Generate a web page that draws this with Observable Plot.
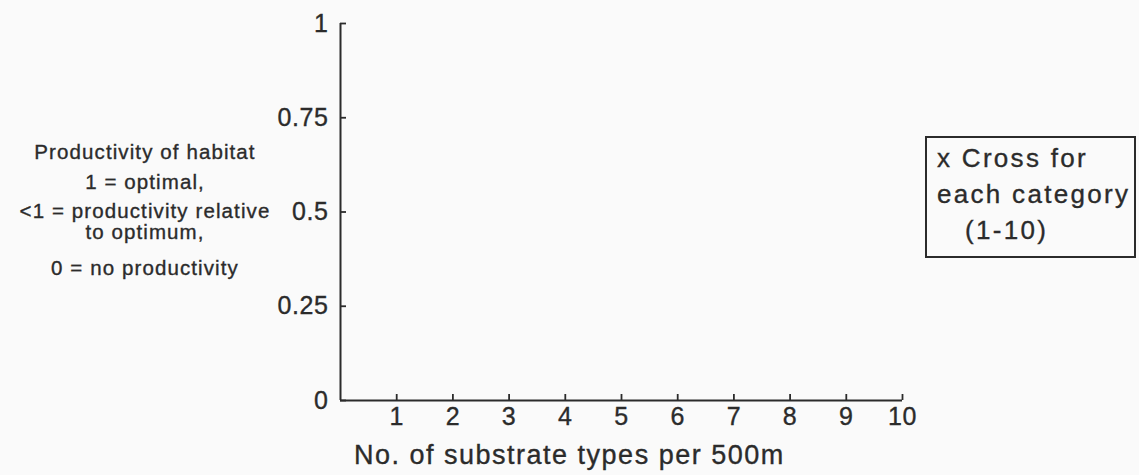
<!DOCTYPE html>
<html>
<head>
<meta charset="utf-8">
<script src="https://cdn.jsdelivr.net/npm/d3@7"></script>
<script src="https://cdn.jsdelivr.net/npm/@observablehq/plot@0.6"></script>
<style>
  html, body { margin: 0; padding: 0; background: #fafafa; }
  #wrap { position: relative; width: 1139px; height: 475px; background: #fafafa; overflow: hidden;
          font-family: "Liberation Sans", Arial, sans-serif; color: #2b2b2b; }
  #wrap svg { position: absolute; left: 0; top: 0; }
  .t { position: absolute; white-space: nowrap; line-height: 24px; -webkit-text-stroke: 0.35px #2b2b2b; }
  .note { font-size: 20.5px; letter-spacing: 1.1px; transform: translateX(-50%); text-align: center; }
  .leg { font-size: 26px; letter-spacing: 2.3px; line-height: 30px; }
  #box { position: absolute; border: 2px solid #2b2b2b; box-sizing: border-box; }
  #xtitle { font-size: 27px; letter-spacing: 1.5px; line-height: 30px; }
  #wrap svg text { stroke: #2b2b2b; stroke-width: 0.35px; }
</style>
</head>
<body>
<div id="wrap"></div>
<script>
// ---- data ----
const xTicks = [1, 2, 3, 4, 5, 6, 7, 8, 9, 10];
const yTicks = [0, 0.25, 0.5, 0.75, 1];
const yTickLabels = ["0", "0.25", "0.5", "0.75", "1"];
const xDomain = [0, 10];
const yDomain = [0, 1];
const xTitle = "No. of substrate types per 500m";
const yNoteLines = ["Productivity of habitat", "1 = optimal,", "<1 = productivity relative", "to optimum,", "0 = no productivity"];
const legendLines = ["x Cross for", "each category", "(1-10)"];
const crosses = []; // blank form: no categories marked yet

// ---- chart ----
const ink = "#2b2b2b";
const chart = Plot.plot({
  width: 1139,
  height: 475,
  marginLeft: 340,
  marginRight: 237,
  marginTop: 23,
  marginBottom: 75,
  style: { fontFamily: "Liberation Sans, Arial, sans-serif", color: ink, background: "transparent", overflow: "visible", letterSpacing: "0.6px" },
  x: { domain: xDomain },
  y: { domain: yDomain },
  marks: [
    Plot.ruleX([xDomain[0]], { stroke: ink, strokeWidth: 2 }),
    Plot.ruleY([yDomain[0]], { stroke: ink, strokeWidth: 2 }),
    // tick labels
    Plot.axisY(yTicks, { tickSize: 0, tickPadding: 12, fontSize: 25, label: null,
      tickFormat: (d) => yTickLabels[yTicks.indexOf(d)] }),
    Plot.axisX(xTicks, { tickSize: 0, tickPadding: 7, fontSize: 25, label: null, tickFormat: (d) => String(d) }),
    // inward tick marks
    Plot.axisY(yTicks, { tickSize: -6, tickFormat: () => "", label: null, stroke: ink, strokeWidth: 1.8 }),
    Plot.axisX(xTicks, { tickSize: -6, tickFormat: () => "", label: null, stroke: ink, strokeWidth: 1.8 }),
    Plot.dot(crosses, { x: "x", y: "y", symbol: "times", stroke: ink })
  ]
});

const wrap = document.getElementById("wrap");
wrap.appendChild(chart);

function addText(cls, text, left, centerY, lh) {
  const d = document.createElement("div");
  d.className = "t " + cls;
  d.textContent = text;
  d.style.left = left + "px";
  d.style.top = (centerY - lh / 2) + "px";
  wrap.appendChild(d);
  return d;
}

// y-axis description (left)
const noteCenters = [152, 182, 211, 232, 268];
yNoteLines.forEach((s, i) => addText("note", s, 145, noteCenters[i], 24));

// x-axis title
const xt = addText("", xTitle, 354, 455, 30);
xt.id = "xtitle";

// legend box
const box = document.createElement("div");
box.id = "box";
box.style.left = "925px"; box.style.top = "136px";
box.style.width = "211px"; box.style.height = "122px";
wrap.appendChild(box);
const legLeft = [937, 937, 965];
const legCenters = [158, 194, 230];
legendLines.forEach((s, i) => addText("leg", s, legLeft[i], legCenters[i], 30));
</script>
</body>
</html>
